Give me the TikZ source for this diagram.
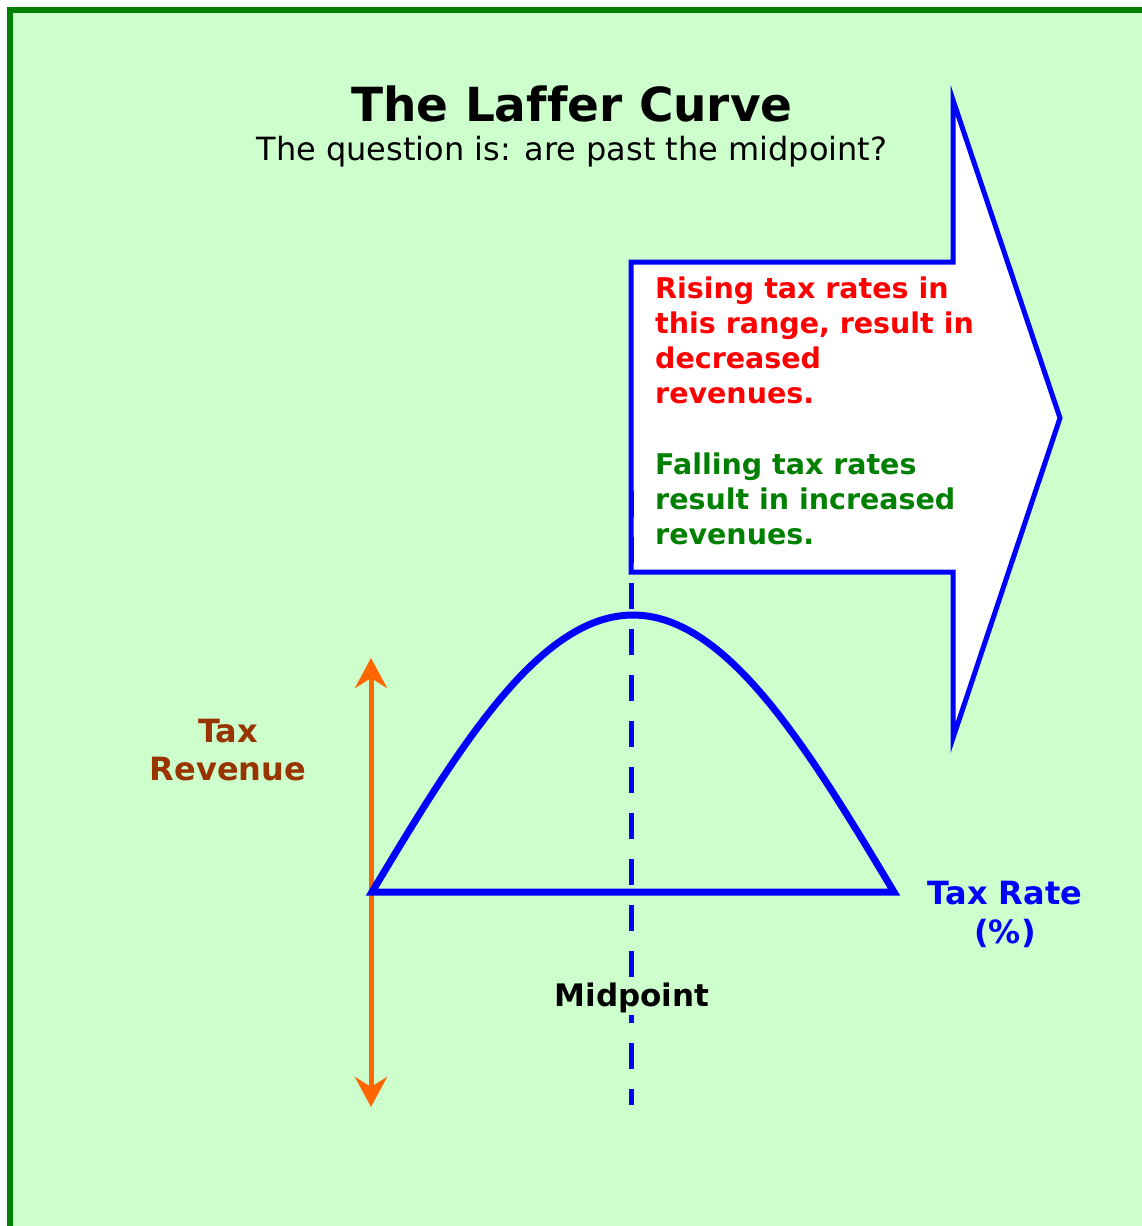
\documentclass[tikz,border=0pt]{standalone}
\usepackage{fontspec}
\setmainfont{DejaVu Sans}[Ligatures=NoCommon]
\usetikzlibrary{arrows.meta}
\definecolor{bggreen}{RGB}{204,255,204}
\definecolor{framegreen}{RGB}{0,128,0}
\definecolor{revbrown}{RGB}{153,51,0}
\definecolor{axisorange}{RGB}{255,102,0}

\begin{document}
\begin{tikzpicture}[x=1pt,y=-1pt,>={Stealth[length=30pt,width=32pt,inset=10pt]},
    every node/.style={inner sep=0pt}]
    \useasboundingbox (0,0) rectangle (1141,1226);
    \fill[white] (0,0) rectangle (1141,1226);
    \draw[framegreen,line width=6pt,fill=bggreen] (10,10) rectangle (1160,1240);
    \node[anchor=base,font=\fontsize{47}{56}\selectfont\bfseries] (title) at (572,121) {The Laffer Curve};
    \node[anchor=base,font=\fontsize{32}{38}\selectfont] (question) at (572,160) {The question is: are past the midpoint?};
    % arrow box pointing right
    \draw[blue,line width=5pt,fill=white,line join=miter] (631,262) -- (953,262) -- (953,100) -- (1060,418)
      -- (953,738) -- (953,572) -- (631,572) -- cycle;
    \node[red,anchor=north west,align=left,font=\fontsize{28.5}{35}\selectfont\bfseries] (rising) at (655,277)
      {Rising tax rates in\\this range, result in\\decreased\\revenues.};
    \node[framegreen,anchor=north west,align=left,font=\fontsize{28.5}{35}\selectfont\bfseries] (falling) at (655,453)
      {Falling tax rates\\result in increased\\revenues.};
    % revenue axis
    \coordinate (revtop) at (371,658);
    \coordinate (revbot) at (371,1107);
    \draw[<->,axisorange,line width=5pt] (revbot) -- (revtop);
    % midpoint
    \coordinate (midtop) at (631,491);
    \coordinate (midbot) at (631,1105);
    \draw[blue,line width=5pt,dash pattern=on 26pt off 20pt] (midtop) -- (midbot);
    % the curve
    \draw[blue,line width=7pt,line join=miter] plot[domain=0:180,samples=90] ({372+2.9*\x},{892-277*sin(\x)}) -- cycle;
    \node[anchor=base,fill=bggreen,inner sep=3pt,font=\fontsize{31}{36}\selectfont\bfseries] (midpoint) at (632,1006) {Midpoint};
    \node[revbrown,anchor=north,align=center,font=\fontsize{32}{38}\selectfont\bfseries] (revenue) at (228,719) {Tax\\Revenue};
    \node[blue,anchor=north,align=center,font=\fontsize{32}{39}\selectfont\bfseries] (rate) at (1005,881) {Tax Rate\\(\%)};
\end{tikzpicture}
\end{document}
